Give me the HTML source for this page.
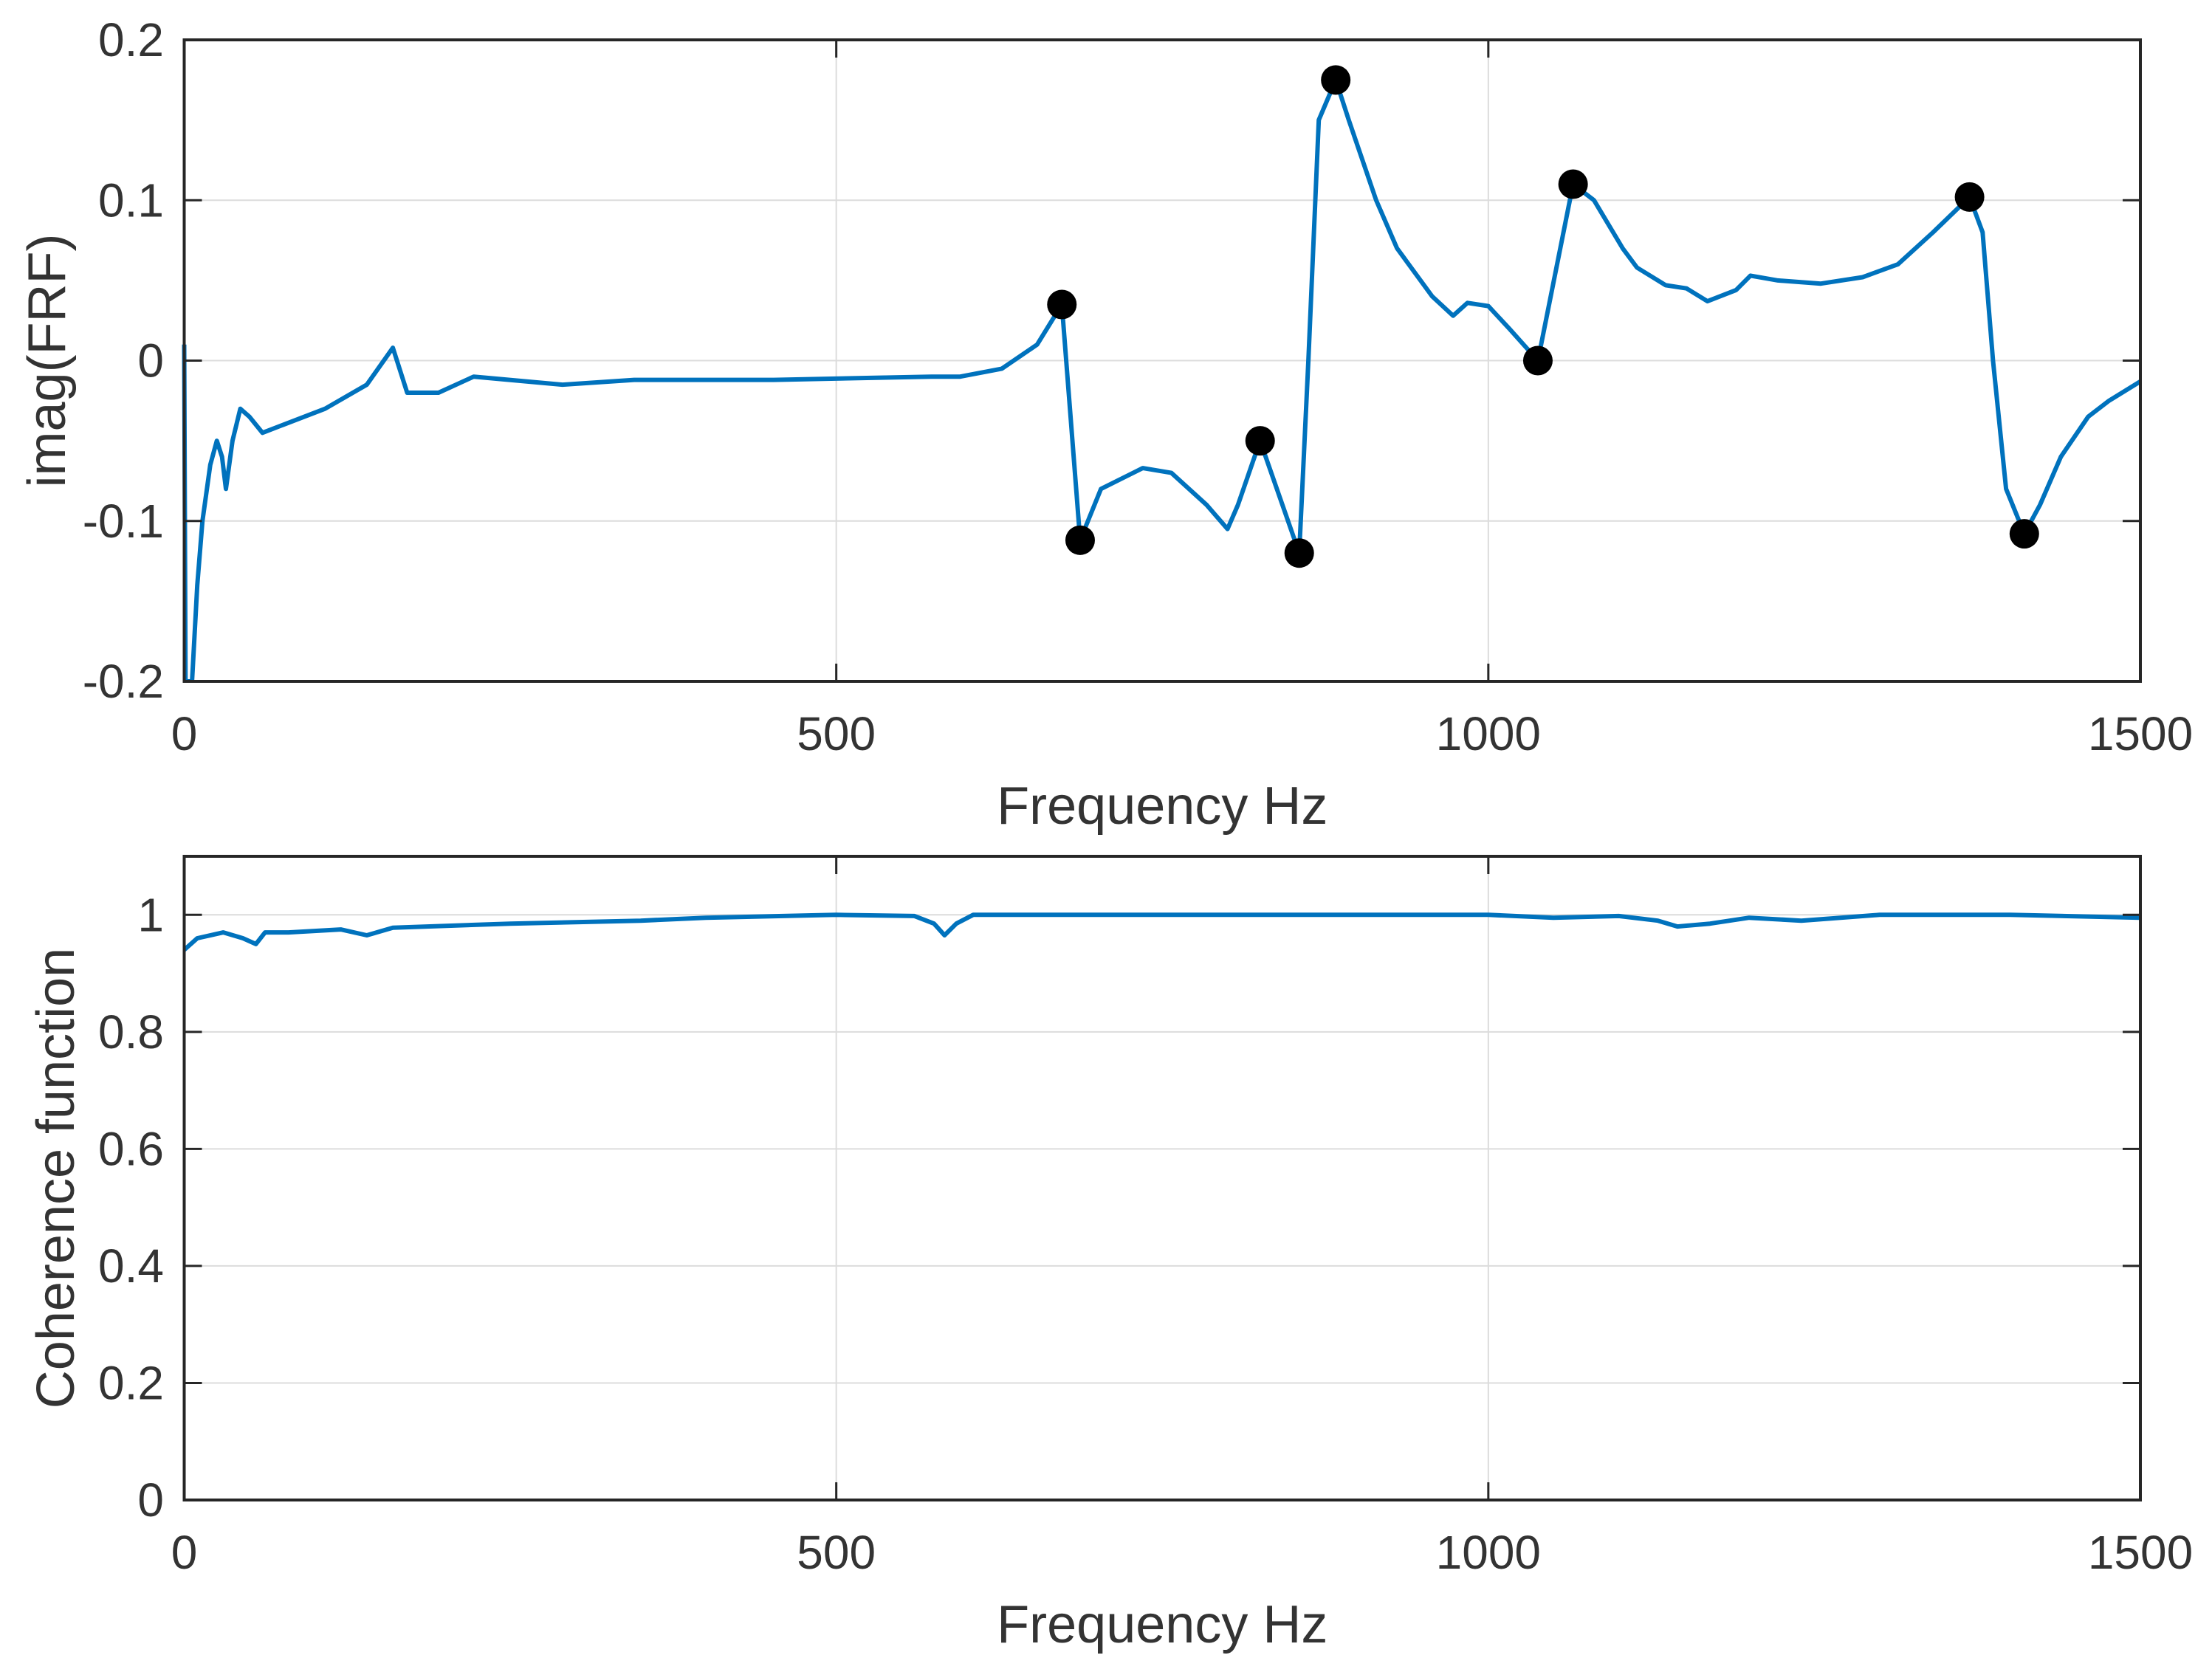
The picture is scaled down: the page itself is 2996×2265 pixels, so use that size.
<!DOCTYPE html>
<html><head><meta charset="utf-8"><style>
html,body{margin:0;padding:0;background:#fff;}
svg{display:block;font-family:"Liberation Sans",Arial,sans-serif;}
</style></head><body>
<svg id="fig" width="2996" height="2265" viewBox="0 0 2996 2265"></svg>
<script>
const frfFreq=[0,1,3,6,10,14,20,25,29,32,37,43,50,60,76,108,140,160,171,195,222,290,345,452,573,595,627,654,673,687,703,735,757,784,800,808,825,855,862,870,883,893,914,930,957,973,984,1000,1016,1038,1065,1081,1103,1114,1136,1152,1168,1190,1201,1222,1255,1287,1314,1341,1369,1379,1387,1397,1411,1423,1439,1460,1476,1500];
const frfVal=[0.01,-0.2,-0.2,-0.2,-0.14,-0.1,-0.065,-0.05,-0.06,-0.08,-0.05,-0.03,-0.035,-0.045,-0.04,-0.03,-0.015,0.008,-0.02,-0.02,-0.01,-0.015,-0.012,-0.012,-0.01,-0.01,-0.005,0.01,0.035,-0.112,-0.08,-0.067,-0.07,-0.09,-0.105,-0.09,-0.05,-0.12,0,0.15,0.175,0.15,0.1,0.07,0.04,0.028,0.036,0.034,0.02,0,0.11,0.1,0.07,0.058,0.047,0.045,0.037,0.044,0.053,0.05,0.048,0.052,0.06,0.08,0.102,0.08,0,-0.08,-0.108,-0.09,-0.06,-0.035,-0.025,-0.013];
const peakFreq=[673,687,825,855,883,1038,1065,1369,1411];
const peakVal=[0.035,-0.112,-0.05,-0.12,0.175,0,0.11,0.102,-0.108];
const cohFreq=[0,10,30,45,55,62,80,120,140,160,250,350,400,500,560,575,583,592,605,1000,1050,1100,1130,1145,1170,1200,1240,1300,1400,1500];
const cohVal=[0.94,0.96,0.97,0.96,0.95,0.97,0.97,0.975,0.965,0.978,0.985,0.99,0.995,1.0,0.998,0.985,0.965,0.985,1.0,1.0,0.995,0.998,0.99,0.98,0.985,0.995,0.99,1.0,1.0,0.995];
const xTicks=[0,500,1000,1500];
const frfTicks=[-0.2,-0.1,0,0.1,0.2];
const frfTickLabels=["-0.2","-0.1","0","0.1","0.2"];
const cohTicks=[0,0.2,0.4,0.6,0.8,1];
const cohTickLabels=["0","0.2","0.4","0.6","0.8","1"];

const NS="http://www.w3.org/2000/svg";
const svg=document.getElementById('fig');
function mk(tag,attrs,parent){const e=document.createElementNS(NS,tag);for(const k in attrs)e.setAttribute(k,attrs[k]);(parent||svg).appendChild(e);return e;}

function panel(cfg){
  const g=mk('g',{});
  
  
  const L=249.5,R=2899,T=cfg.top,B=cfg.bottom;
  const xs=f=>L+(f-0)/(1500)*(R-L);
  const ys=v=>B-(v-cfg.ymin)/(cfg.ymax-cfg.ymin)*(B-T);
  xTicks.forEach(t=>{if(t>0&&t<1500){const l=mk('line',{x1:xs(t),x2:xs(t),y1:T,y2:B,stroke:'#dcdcdc','stroke-width':2},g);}});
  cfg.ticks.forEach(t=>{if(ys(t)>T+1&&ys(t)<B-1){const l=mk('line',{x1:L,x2:R,y1:ys(t),y2:ys(t),stroke:'#dcdcdc','stroke-width':2},g);}});
  const d=cfg.fx.map((f,i)=>(i?'L':'M')+xs(f).toFixed(1)+','+ys(cfg.fy[i]).toFixed(1)).join(' ');
  const cp=mk('clipPath',{id:cfg.name+'-clip'},g);mk('rect',{x:L-4,y:T,width:R-L+8,height:B-T},cp);
  const p=mk('path',{d:d,fill:'none',stroke:'#0072BD','stroke-width':6,'stroke-linejoin':'round','clip-path':'url(#'+cfg.name+'-clip)'},g);
  
  
  if(cfg.px){cfg.px.forEach((f,i)=>{const c=mk('circle',{cx:xs(f),cy:ys(cfg.py[i]),r:20,fill:'#000'},g);
    
    });}
  const bx=mk('rect',{x:L,y:T,width:R-L,height:B-T,fill:'none',stroke:'#262626','stroke-width':4},g);
  
  
  xTicks.forEach(t=>{mk('line',{x1:xs(t),x2:xs(t),y1:B,y2:B-24,stroke:'#262626','stroke-width':3},g);mk('line',{x1:xs(t),x2:xs(t),y1:T,y2:T+24,stroke:'#262626','stroke-width':3},g);
    const tx=mk('text',{x:xs(t),y:B+93,'text-anchor':'middle','font-size':64,fill:'#333'},g);tx.textContent=String(t);
    
    });
  cfg.ticks.forEach((t,i)=>{mk('line',{x1:L,x2:L+24,y1:ys(t),y2:ys(t),stroke:'#262626','stroke-width':3},g);mk('line',{x1:R,x2:R-24,y1:ys(t),y2:ys(t),stroke:'#262626','stroke-width':3},g);
    const tx=mk('text',{x:222,y:ys(t)+22,'text-anchor':'end','font-size':64,fill:'#333'},g);tx.textContent=cfg.tickLabels[i];
    
    });
  const xl=mk('text',{x:(L+R)/2,y:B+193,'text-anchor':'middle','font-size':72,fill:'#333'},g);xl.textContent='Frequency Hz';
  
  
  const yl=mk('text',{x:0,y:0,'text-anchor':'middle','font-size':72,fill:'#333',transform:'translate('+cfg.ylx+','+(T+B)/2+') rotate(-90)'},g);yl.textContent=cfg.ylabel;
  
  
}
panel({name:'frf-panel',seriesName:'frf-imag-line',top:54,bottom:923,ymin:-0.2,ymax:0.2,ticks:frfTicks,tickLabels:frfTickLabels,fx:frfFreq,fy:frfVal,px:peakFreq,py:peakVal,ylabel:'imag(FRF)',ylx:88});
panel({name:'coherence-panel',seriesName:'coherence-line',top:1160,bottom:2032,ymin:0,ymax:1.1,ticks:cohTicks,tickLabels:cohTickLabels,fx:cohFreq,fy:cohVal,ylabel:'Coherence function',ylx:100});
</script>
</body></html>
